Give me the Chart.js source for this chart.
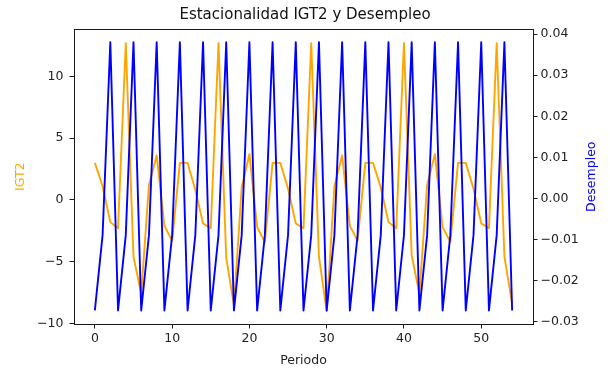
<!DOCTYPE html>
<html>
<head>
<meta charset="utf-8">
<script src="https://cdn.jsdelivr.net/npm/chart.js@4"></script>
<style>
  body { margin: 0; background: #fff; }
  #wrap { width: 610px; height: 374px; }
</style>
</head>
<body>
<div id="wrap"><canvas id="myChart" width="610" height="374"></canvas></div>
<script>
// valores (periodo = indice 0..54)
const igt2 = [
    3.0, 1.1, -1.8, -2.3, 12.7, -4.6, -7.6, 1.2, 3.6, -2.1, -3.3, 3.0,
    3.0, 0.8, -1.9, -2.3, 12.7, -4.7, -8.5, 1.0, 3.7, -2.2, -3.4, 3.0,
    3.0, 0.9, -1.9, -2.3, 12.7, -4.6, -9.0, 1.1, 3.6, -2.1, -3.3, 3.0,
    3.0, 1.0, -1.8, -2.3, 12.7, -4.5, -7.6, 1.2, 3.7, -2.2, -3.4, 3.0,
    3.0, 0.9, -1.9, -2.3, 12.7, -4.6, -8.4
];

const desempleo = [
    -0.0272, -0.0089, 0.0380, -0.0272, -0.0089, 0.0380,
    -0.0272, -0.0089, 0.0380, -0.0272, -0.0089, 0.0380,
    -0.0272, -0.0089, 0.0380, -0.0272, -0.0089, 0.0380,
    -0.0272, -0.0089, 0.0380, -0.0272, -0.0089, 0.0380,
    -0.0272, -0.0089, 0.0380, -0.0272, -0.0089, 0.0380,
    -0.0272, -0.0089, 0.0380, -0.0272, -0.0089, 0.0380,
    -0.0272, -0.0089, 0.0380, -0.0272, -0.0089, 0.0380,
    -0.0272, -0.0089, 0.0380, -0.0272, -0.0089, 0.0380,
    -0.0272, -0.0089, 0.0380, -0.0272, -0.0089, 0.0380,
    -0.0272
];

const periodo = igt2.map((v, i) => i);

const xTicks = [0, 10, 20, 30, 40, 50];
const yTicks = [-10, -5, 0, 5, 10];
const y2Ticks = [-0.03, -0.02, -0.01, 0, 0.01, 0.02, 0.03, 0.04];


const font = { family: 'DejaVu Sans', size: 12.5 };
const minus = s => String(s).replace('-', '\u2212');

function axisStyle(ticks) {
    return {
        afterBuildTicks: scale => { scale.ticks = ticks.map(v => ({ value: v })); },
        grid: { drawOnChartArea: false, drawTicks: true, tickLength: 4.5, color: '#000', tickWidth: 0.9 },
        border: { display: true, color: '#000', width: 0.9 },
    };
}

// marco superior + etiqueta del eje derecho (matplotlib la gira hacia arriba)
const frame = {
    id: 'frame',
    afterDraw(chart) {
        const { ctx, chartArea: a } = chart;
        ctx.save();
        ctx.strokeStyle = '#000';
        ctx.lineWidth = 0.9;
        ctx.beginPath();
        ctx.moveTo(a.left, a.top);
        ctx.lineTo(a.right, a.top);
        ctx.stroke();

        ctx.translate(592, (a.top + a.bottom) / 2);
        ctx.rotate(-Math.PI / 2);
        ctx.fillStyle = 'blue';
        ctx.font = '12.5px "DejaVu Sans"';
        ctx.textAlign = 'center';
        ctx.textBaseline = 'middle';
        ctx.fillText('Desempleo', 0, 0);
        ctx.restore();
    }
};

const config = {
    type: 'line',
    data: {
        datasets: [
            {
                label: 'IGT2',
                data: periodo.map((p, i) => ({ x: p, y: igt2[i] })),
                borderColor: 'orange',
                borderWidth: 1.9,
                yAxisID: 'y',
                order: 1,
            },
            {
                label: 'Desempleo',
                data: periodo.map((p, i) => ({ x: p, y: desempleo[i] })),
                borderColor: 'blue',
                borderWidth: 1.9,
                yAxisID: 'y2',
                order: 0,
            }
        ]
    },
    options: {
        responsive: false,
        animation: false,
        layout: { padding: 0 },
        elements: {
            point: { radius: 0 },
            line: { tension: 0, borderJoinStyle: 'round', fill: false }
        },
        plugins: {
            legend: { display: false },
            tooltip: { enabled: false },
            title: {
                display: true,
                text: 'Estacionalidad IGT2 y Desempleo',
                color: '#111',
                font: { family: 'DejaVu Sans', size: 15, weight: 'normal' },
                padding: { top: 6, bottom: 5.5 },
            }
        },
        scales: {
            x: {
                type: 'linear',
                min: -2.7,
                max: 56.7,
                ...axisStyle(xTicks),
                ticks: { font, color: '#222', padding: 3, maxRotation: 0, autoSkip: false },
                title: { display: true, text: 'Periodo', font, color: '#222', padding: { top: 0, bottom: 6 } },
                afterFit: s => { s.height = 50; },
            },
            y: {
                type: 'linear',
                position: 'left',
                min: -10.05,
                max: 13.8,
                ...axisStyle(yTicks),
                ticks: { font, color: '#222', padding: 6, callback: v => minus(v) },
                title: { display: true, text: 'IGT2', font, color: 'orange', padding: { top: 13, bottom: 0 } },
                afterFit: s => { s.width = 74; },
            },
            y2: {
                type: 'linear',
                position: 'right',
                min: -0.0305,
                max: 0.0411,
                ...axisStyle(y2Ticks),
                ticks: { font, color: '#222', padding: 3, callback: v => minus(v.toFixed(2)) },
                afterFit: s => { s.width = 77; },
            }
        }
    },
    plugins: [frame]
};

const chart = new Chart(document.getElementById('myChart'), config);
</script>
</body>
</html>
